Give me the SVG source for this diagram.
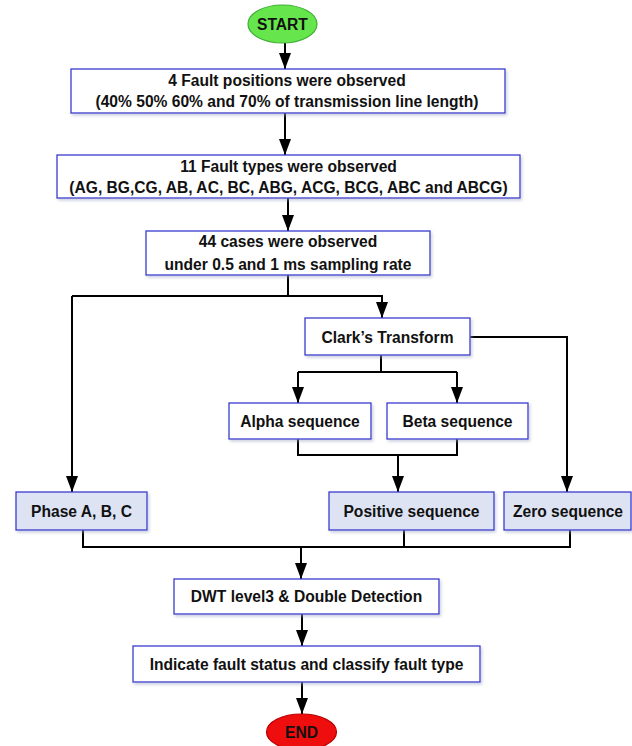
<svg xmlns="http://www.w3.org/2000/svg" width="632" height="746" viewBox="0 0 632 746">
<style>
  .box{fill:#ffffff;stroke:#3a3ad0;stroke-width:1.3;filter:url(#sh)}
  .sbox{fill:#dde3f3;stroke:#3a3ad0;stroke-width:1.3;filter:url(#sh)}
  .t{font-family:"Liberation Sans",Arial,sans-serif;font-weight:bold;font-size:15.6px;fill:#111;text-anchor:middle}
  .c{fill:none;stroke:#000;stroke-width:2}
</style>
<defs>
  <filter id="sh" x="-10%" y="-20%" width="120%" height="150%">
    <feDropShadow dx="1.5" dy="2" stdDeviation="1.5" flood-color="#9aa3c0" flood-opacity="0.5"/>
  </filter>
  <marker id="arr2" markerUnits="userSpaceOnUse" markerWidth="16" markerHeight="12" refX="16" refY="6" orient="auto" viewBox="0 0 16 12">
    <path d="M0,0 L16,6 L0,12 z" fill="#000"/>
  </marker>
</defs>

<g id="connectors">
  <path class="c" d="M285,43 V69" marker-end="url(#arr2)"/>
  <path class="c" d="M285,113 V155" marker-end="url(#arr2)"/>
  <path class="c" d="M288,198 V231" marker-end="url(#arr2)"/>
  <path class="c" d="M288,275 V296"/>
  <path class="c" d="M72,296 H382 V318" marker-end="url(#arr2)"/>
  <path class="c" d="M72,296 V492" marker-end="url(#arr2)"/>
  <path class="c" d="M470,337 H567 V492" marker-end="url(#arr2)"/>
  <path class="c" d="M381,355 V372"/>
  <path class="c" d="M298,372 H457"/>
  <path class="c" d="M298,372 V403" marker-end="url(#arr2)"/>
  <path class="c" d="M457,372 V403" marker-end="url(#arr2)"/>
  <path class="c" d="M298,439 V455 H457 V439"/>
  <path class="c" d="M398,455 V492" marker-end="url(#arr2)"/>
  <path class="c" d="M83,530 V547 H570 V530"/>
  <path class="c" d="M404,530 V547"/>
  <path class="c" d="M301,547 V579" marker-end="url(#arr2)"/>
  <path class="c" d="M302,614 V646" marker-end="url(#arr2)"/>
  <path class="c" d="M302,682 V714" marker-end="url(#arr2)"/>
</g>

<g id="start">
  <ellipse cx="282.5" cy="24" rx="34.5" ry="19" fill="#66e64c" stroke="#3fae34" stroke-width="1.2"/>
  <text class="t" x="282.5" y="30" font-size="16">START</text>
</g>

<g id="positions">
  <rect class="box" x="71" y="69" width="434" height="44"/>
  <text class="t" x="287" y="86">4 Fault positions were observed</text>
  <text class="t" x="287" y="107">(40% 50% 60% and 70% of transmission line length)</text>
</g>

<g id="types">
  <rect class="box" x="57" y="155" width="463" height="43"/>
  <text class="t" x="288.5" y="172">11 Fault types were observed</text>
  <text class="t" x="288.5" y="193">(AG, BG,CG, AB, AC, BC, ABG, ACG, BCG, ABC and ABCG)</text>
</g>

<g id="cases">
  <rect class="box" x="146" y="231" width="284" height="44"/>
  <text class="t" x="288" y="247">44 cases were observed</text>
  <text class="t" x="288" y="270">under 0.5 and 1 ms sampling rate</text>
</g>

<g id="clark">
  <rect class="box" x="305" y="318" width="165" height="37"/>
  <text class="t" x="387.5" y="343">Clark’s Transform</text>
</g>

<g id="alpha">
  <rect class="box" x="229" y="403" width="142" height="36"/>
  <text class="t" x="300" y="427">Alpha sequence</text>
</g>

<g id="beta">
  <rect class="box" x="387" y="403" width="141" height="36"/>
  <text class="t" x="457.5" y="427">Beta sequence</text>
</g>

<g id="phase">
  <rect class="sbox" x="16" y="492" width="131" height="38"/>
  <text class="t" x="81.5" y="517">Phase A, B, C</text>
</g>

<g id="positive">
  <rect class="sbox" x="329" y="492" width="165" height="38"/>
  <text class="t" x="411.5" y="517">Positive sequence</text>
</g>

<g id="zero">
  <rect class="sbox" x="504" y="492" width="127" height="38"/>
  <text class="t" x="568" y="517">Zero sequence</text>
</g>

<g id="dwt">
  <rect class="box" x="174" y="579" width="265" height="35"/>
  <text class="t" x="306.5" y="602">DWT level3 &amp; Double Detection</text>
</g>

<g id="indicate">
  <rect class="box" x="133" y="646" width="347" height="36"/>
  <text class="t" x="306.5" y="670">Indicate fault status and classify fault type</text>
</g>

<g id="end">
  <ellipse cx="301.5" cy="732" rx="35" ry="18" fill="#ee0e0e" stroke="#b80000" stroke-width="1.2"/>
  <text class="t" x="301.5" y="738" font-size="16">END</text>
</g>
</svg>
